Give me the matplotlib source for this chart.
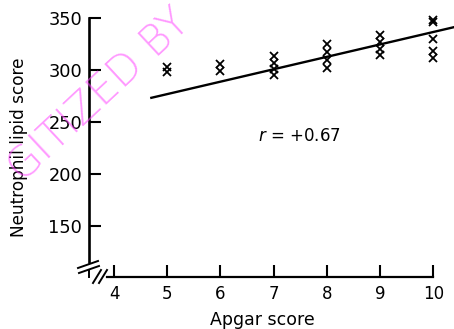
import numpy as np
import matplotlib
matplotlib.use("Agg")
import matplotlib.pyplot as plt
from matplotlib.lines import Line2D

# ---- data ----
apgar_scores = [5, 6, 7, 8, 9, 10]
lipid_scores = {
    5: [303, 298],
    6: [306, 299],
    7: [313, 307, 301, 295],
    8: [325, 317, 310, 302],
    9: [334, 327, 320, 314],
    10: [348, 346, 330, 318, 312],
}
fit_x = [4.68, 10.5]
fit_y = [273.0, 342.5]
r_text = "$r$ = +0.67"
x_ticks = [4, 5, 6, 7, 8, 9, 10]
y_ticks = [150, 200, 250, 300, 350]
x_label = "Apgar score"
y_label = "Neutrophil lipid score"
watermark = "GITIZED BY"

plt.rcParams['font.family'] = ['DejaVu Sans']

W, H = 454, 329
fig = plt.figure(figsize=(W / 100, H / 100), dpi=100)
ax = fig.add_axes([89 / W, 52 / H, (W - 89) / W, (H - 52) / H])
ax.set_xlim(3.53, 10.39)
ax.set_ylim(100.96, 367.3)
ax.patch.set_visible(False)

# points
xs, ys = [], []
for a in apgar_scores:
    for v in lipid_scores[a]:
        xs.append(a)
        ys.append(v)
ax.plot(xs, ys, linestyle='none', marker='x', markersize=5.2,
        markeredgewidth=1.3, color='black', zorder=3)

# regression line
ax.plot(fit_x, fit_y, color='black', linewidth=1.7, solid_capstyle='butt', zorder=2)

ax.text(6.71, 236.5, r_text, fontsize=12, ha='left', va='center')

# spines / ticks
for s in ['top', 'right']:
    ax.spines[s].set_visible(False)
ax.spines['left'].set_linewidth(1.9)
ax.spines['bottom'].set_linewidth(1.6)
ax.spines['left'].set_bounds(115.4, 350)
ax.spines['bottom'].set_bounds(3.87, 10)
ax.set_xticks(x_ticks)
ax.set_yticks(y_ticks)
ax.set_xticklabels([str(t) for t in x_ticks])
ax.set_yticklabels([str(t) for t in y_ticks])
ax.tick_params(axis='y', direction='in', length=8.5, width=1.5, pad=5, labelsize=12.8)
ax.tick_params(axis='x', direction='in', length=8.5, width=1.5, pad=6, labelsize=12)

# axis labels
fig.text(262 / W, 1 - 320 / H, x_label, fontsize=12.5, ha='center', va='center')
fig.text(19 / W, 1 - 147.5 / H, y_label, fontsize=12.2, ha='center', va='center',
         rotation=90)

# axis break marks (pixel positions, top-left origin)
def P(x, y):
    return x / W, 1 - y / H

breaks = [((78, 268), (98, 261)), ((79, 273), (99, 266)),
          ((89, 270), (89, 277)),
          ((93, 283), (101, 270)), ((99, 283), (107, 270))]
for (x0, y0), (x1, y1) in breaks:
    a0, b0 = P(x0, y0)
    a1, b1 = P(x1, y1)
    fig.add_artist(Line2D([a0, a1], [b0, b1], transform=fig.transFigure,
                          color='black', linewidth=1.4))

# watermark
fig.text(99 / W, 1 - 95 / H, watermark, fontsize=30, rotation=43,
         fontweight='light', color='#ff44ff', alpha=0.55,
         ha='center', va='center', zorder=10)

fig.savefig("out.png", dpi=100)
